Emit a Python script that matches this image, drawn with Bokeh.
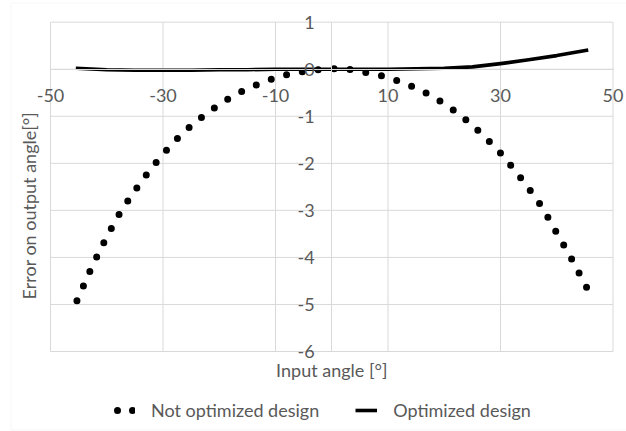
from bokeh.plotting import figure
from bokeh.models import (FixedTicker, Label, Legend, LegendItem, Range1d,
                          CustomJSTickFormatter, BoxAnnotation)
from bokeh.embed import file_html
from bokeh.resources import INLINE

# ---- data ----
not_opt_x = [-45.3, -42.5, -40, -37.5, -35, -32.5, -30, -27.5, -25, -22.5, -20, -17.5, -15,
             -12.5, -10, -7.5, -5, -2.5, 0, 2.5, 5, 7.5, 10, 12.5, 15, 17.5, 20, 22.5,
             25, 27.5, 30, 32.5, 35, 37.5, 40, 42.5, 45.5]
not_opt_y = [-4.92, -4.16, -3.56, -3.02, -2.58, -2.17, -1.80, -1.48, -1.20, -0.96, -0.75,
             -0.56, -0.41, -0.29, -0.18, -0.10, -0.05, -0.01, 0.01, 0.01, -0.05, -0.10,
             -0.17, -0.28, -0.40, -0.55, -0.73, -0.94, -1.19, -1.47, -1.78, -2.14, -2.53,
             -2.95, -3.48, -4.00, -4.68]

opt_x = [-45.5, -40, -35, -30, -25, -20, -15, -10, -5, 0, 5, 10, 15, 20, 25, 30, 35, 40, 45.6]
opt_y = [0.02, -0.01, -0.02, -0.02, -0.02, -0.01, -0.01, 0.0, 0.0, 0.0, 0.0, 0.0, 0.01,
         0.02, 0.05, 0.12, 0.20, 0.29, 0.41]

x_ticks = [-50, -30, -10, 10, 30, 50]
y_ticks = [-6, -5, -4, -3, -2, -1, 0, 1]

series_names = ["Not optimized design", "Optimized design"]
x_title = "Input angle [°]"
y_title = "Error on output angle[°]"

FONT = "Lato"
TXT = "#595959"
GRID = "#d9d9d9"

W, H = 626, 431
# plot-area pixel box (the frame covers the whole canvas; ranges are padded so that
# the value box lands on these pixels)
PX_L, PX_R, PX_T, PX_B = 50.0, 612.5, 21.7, 351.0
xmin, xmax = x_ticks[0], x_ticks[-1]
ymin, ymax = y_ticks[0], y_ticks[-1]
sx = (PX_R - PX_L) / (xmax - xmin)
sy = (PX_B - PX_T) / (ymax - ymin)
x0r, x1r = xmin - PX_L / sx, xmax + (W - PX_R) / sx
y0r, y1r = ymin - (H - PX_B) / sy, ymax + PX_T / sy
x_range = Range1d(x0r, x1r)
y_range = Range1d(y0r, y1r)

p = figure(width=W, height=H, x_range=x_range, y_range=y_range,
           output_backend="svg", toolbar_location=None,
           min_border_left=0, min_border_right=0, min_border_top=0, min_border_bottom=0)
p.outline_line_color = None
p.background_fill_color = "white"
p.border_fill_color = "white"
p.xgrid.visible = False
p.ygrid.visible = False

# faint chart-area border (left at 10px, top at 2px, bottom at 430px, right off-canvas)
p.add_layout(BoxAnnotation(left=x0r + 10.5 / sx, right=x1r + 5, top=y1r - 2.5 / sy,
                           bottom=y0r + 1.5 / sy, fill_alpha=0, line_color="#e3e3e3",
                           line_width=1))

# grid lines drawn from the tick arrays
p.segment(x0=x_ticks, y0=[ymin] * len(x_ticks), x1=x_ticks, y1=[ymax] * len(x_ticks),
          line_color=GRID, line_width=1)
p.segment(x0=[xmin] * len(y_ticks), y0=y_ticks, x1=[xmax] * len(y_ticks), y1=y_ticks,
          line_color=GRID, line_width=1)

fmt = CustomJSTickFormatter(code="return String(tick);")
p.xaxis.ticker = FixedTicker(ticks=x_ticks)
p.yaxis.ticker = FixedTicker(ticks=y_ticks)
p.xaxis.bounds = (xmin, xmax)
p.yaxis.bounds = (ymin, ymax)
p.xaxis.fixed_location = 0
p.yaxis.fixed_location = 0
for ax in (p.xaxis, p.yaxis):
    ax.formatter = fmt
    ax.axis_line_color = GRID
    ax.major_tick_line_color = None
    ax.minor_tick_line_color = None
    ax.major_tick_in = 0
    ax.major_tick_out = 0
    ax.major_label_text_font = FONT
    ax.major_label_text_font_size = "18px"
    ax.major_label_text_color = TXT
p.xaxis.major_label_standoff = 20
p.yaxis.major_label_standoff = 17

r1 = p.line(not_opt_x, not_opt_y, line_color="black", line_width=7,
            line_dash="0 16", line_cap="round")
r2 = p.line(opt_x, opt_y, line_color="black", line_width=3.6, line_join="round")
# legend key for the dotted series: a one-point line (draws nothing on the plot) whose
# dash phase puts two whole dots inside the key box
r1_key = p.line(x=not_opt_x[:1], y=not_opt_y[:1], line_color="black", line_width=7,
                line_dash="0 15", line_dash_offset=11, line_cap="round")

p.add_layout(Label(x=0, y=-6.40, text=x_title, text_align="center", text_baseline="middle",
                   text_font=FONT, text_font_size="18px", text_color=TXT))
p.add_layout(Label(x=-53.8, y=-2.90, text=y_title, angle=1.5707963, angle_units="rad",
                   text_align="center", text_baseline="middle",
                   text_font=FONT, text_font_size="18px", text_color=TXT))

legend = Legend(items=[LegendItem(label=series_names[0], renderers=[r1_key]),
                       LegendItem(label=series_names[1], renderers=[r2])],
                orientation="horizontal", location=(113, 10),
                border_line_color=None, background_fill_alpha=0,
                padding=0, spacing=36, label_standoff=16, glyph_width=22, glyph_height=20,
                label_text_font=FONT, label_text_font_size="18px", label_text_color=TXT)
p.add_layout(legend, "center")

open("out.html", "w").write(file_html(p, INLINE))
